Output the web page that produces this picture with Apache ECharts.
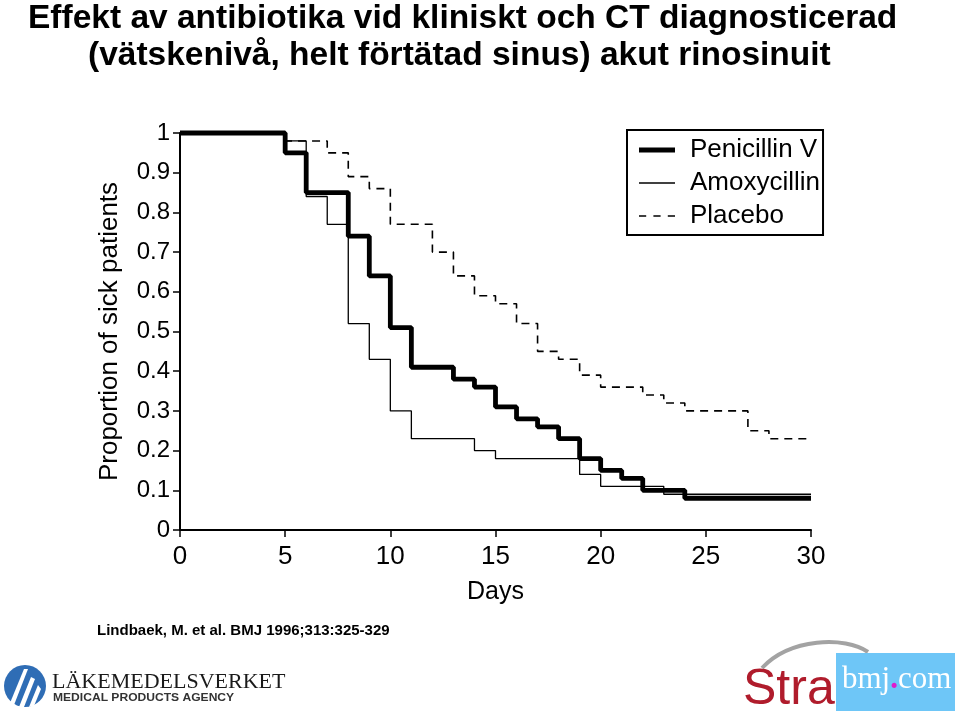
<!DOCTYPE html>
<html>
<head>
<meta charset="utf-8">
<script src="https://cdn.jsdelivr.net/npm/echarts@6/dist/echarts.min.js"></script>
<style>
html,body{margin:0;padding:0;background:#fff;}
#c{width:959px;height:714px;}
</style>
</head>
<body>
<div id="c"></div>
<script>
// ---- data (Kaplan-Meier steps: value holds from the given day) ----
const seriesNames = ['Penicillin V', 'Amoxycillin', 'Placebo'];
const penicillinDays   = [0, 5, 6, 8, 9, 10, 11, 13, 14, 15, 16, 17, 18, 19, 20, 21, 22, 24, 30];
const penicillinValues = [1, 0.95, 0.85, 0.74, 0.64, 0.51, 0.41, 0.38, 0.36, 0.31, 0.28, 0.26, 0.23, 0.18, 0.15, 0.13, 0.10, 0.08, 0.08];
const amoxycillinDays   = [0, 5, 6, 7, 8, 9, 10, 11, 14, 15, 19, 20, 23, 30];
const amoxycillinValues = [1, 0.98, 0.84, 0.77, 0.52, 0.43, 0.30, 0.23, 0.20, 0.18, 0.14, 0.11, 0.09, 0.09];
const placeboDays   = [0, 5, 7, 8, 9, 10, 12, 13, 14, 15, 16, 17, 18, 19, 20, 22, 23, 24, 27, 28, 30];
const placeboValues = [1, 0.98, 0.95, 0.89, 0.86, 0.77, 0.70, 0.64, 0.59, 0.57, 0.52, 0.45, 0.43, 0.39, 0.36, 0.34, 0.32, 0.30, 0.25, 0.23, 0.23];
const xTicks = [0, 5, 10, 15, 20, 25, 30];
const yTicks = [0, 0.1, 0.2, 0.3, 0.4, 0.5, 0.6, 0.7, 0.8, 0.9, 1];
const titleLines = ['Effekt av antibiotika vid kliniskt och CT diagnosticerad', '(vätskenivå, helt förtätad sinus) akut rinosinuit'];
const sourceText = 'Lindbaek, M. et al. BMJ 1996;313:325-329';

function pairs(xs, ys) { return xs.map((x, i) => [x, ys[i]]); }

const FONT = '"Liberation Sans", Arial, Helvetica, sans-serif';
const chart = echarts.init(document.getElementById('c'), null, { renderer: 'canvas' });

function yLabel(v) {
  const r = Math.round(v * 10) / 10;
  const idx = yTicks.findIndex(t => Math.abs(t - r) < 1e-9);
  if (idx < 0) return '';
  const t = yTicks[idx];
  return (t === 0 || t === 1) ? String(t) : t.toFixed(1);
}

const legendIcons = {
  'Penicillin V': 'path://M0,0H36V5H0Z',
  'Amoxycillin': 'path://M0,0H36V1.3H0Z',
  'Placebo': 'path://M0,0H7V1.6H0Z M14,0H21V1.6H14Z M28,0H35V1.6H28Z'
};

const option = {
  backgroundColor: '#ffffff',
  animation: false,
  title: [
    { text: titleLines[0], left: 23, top: -3,
      textStyle: { fontFamily: FONT, fontWeight: 'bold', fontSize: 33.5, color: '#000' } },
    { text: titleLines[1], left: 83, top: 34,
      textStyle: { fontFamily: FONT, fontWeight: 'bold', fontSize: 33.5, color: '#000' } }
  ],
  legend: {
    orient: 'vertical',
    left: 627, top: 130,
    padding: [7, 3, 6, 12],
    borderColor: '#000', borderWidth: 2,
    itemWidth: 36, itemHeight: 14, itemGap: 7,
    itemStyle: { borderWidth: 0, color: '#000' },
    data: seriesNames.map(n => ({ name: n, icon: legendIcons[n] })),
    textStyle: { fontFamily: FONT, fontSize: 26, color: '#000', padding: [0, 0, 0, 10] }
  },
  grid: { left: 180, right: 148, top: 133, bottom: 184 },
  xAxis: {
    type: 'value', min: 0, max: 30, interval: 5,
    name: 'Days', nameLocation: 'middle', nameGap: 50,
    nameTextStyle: { fontFamily: FONT, fontSize: 25, color: '#000' },
    axisLine: { lineStyle: { color: '#000', width: 2 } },
    axisTick: { show: true, length: 7, lineStyle: { color: '#000', width: 1.5 } },
    axisLabel: { fontFamily: FONT, fontSize: 26, color: '#000', margin: 14,
      formatter: v => xTicks.includes(v) ? String(v) : '' },
    splitLine: { show: false }
  },
  yAxis: {
    type: 'value', min: 0, max: 1, interval: 0.1,
    name: 'Proportion of sick patients', nameLocation: 'middle', nameGap: 57,
    nameRotate: 90,
    nameTextStyle: { fontFamily: FONT, fontSize: 26, color: '#000' },
    axisLine: { show: true, lineStyle: { color: '#000', width: 2 } },
    axisTick: { show: true, length: 7, lineStyle: { color: '#000', width: 1.5 } },
    axisLabel: { fontFamily: FONT, fontSize: 24, color: '#000', margin: 10, formatter: yLabel },
    splitLine: { show: false }
  },
  series: [
    { name: 'Placebo', type: 'line', step: 'end', showSymbol: false, symbol: 'none', clip: false, z: 2,
      data: pairs(placeboDays, placeboValues),
      lineStyle: { color: '#000', width: 1.6, type: [8, 6] }, itemStyle: { color: '#000' } },
    { name: 'Amoxycillin', type: 'line', step: 'end', showSymbol: false, symbol: 'none', clip: false, z: 3,
      data: pairs(amoxycillinDays, amoxycillinValues),
      lineStyle: { color: '#000', width: 1.3 }, itemStyle: { color: '#000' } },
    { name: 'Penicillin V', type: 'line', step: 'end', showSymbol: false, symbol: 'none', clip: false, z: 4,
      data: pairs(penicillinDays, penicillinValues),
      lineStyle: { color: '#000', width: 4.8 }, itemStyle: { color: '#000' } }
  ],
  graphic: [
    { type: 'text', x: 97, y: 631,
      style: { text: sourceText, font: 'bold 15px "Liberation Sans", Arial, sans-serif', fill: '#000',
               verticalAlign: 'middle' } },
    // Läkemedelsverket logo
    { type: 'group', x: 4, y: 665, children: [
      { type: 'circle', shape: { cx: 21, cy: 21, r: 21 }, style: { fill: '#2f6db5' } },
      { type: 'polygon', shape: { points: [[6, 38], [20, 4], [24, 4], [10, 40]] }, style: { fill: '#fff' } },
      { type: 'polygon', shape: { points: [[15, 42], [27, 12], [31, 14], [20, 42]] }, style: { fill: '#fff' } },
      { type: 'polygon', shape: { points: [[25, 42], [34, 20], [37, 24], [30, 41]] }, style: { fill: '#fff' } }
    ]},
    { type: 'text', x: 52, y: 682,
      style: { text: 'LÄKEMEDELSVERKET', font: '22px "Liberation Serif", "Times New Roman", serif', fill: '#1a1a1a',
               verticalAlign: 'middle' } },
    { type: 'text', x: 53, y: 698, scaleX: 1.15,
      style: { text: 'MEDICAL PRODUCTS AGENCY', font: 'bold 10.5px "Liberation Sans", Arial, sans-serif', fill: '#333',
               verticalAlign: 'middle' } },
    // Stra bmj.com logo
    { type: 'bezierCurve', shape: { x1: 762, y1: 668, x2: 868, y2: 652, cpx1: 790, cpy1: 638, cpx2: 845, cpy2: 636 },
      style: { stroke: '#a3a3a3', lineWidth: 4, fill: null } },
    { type: 'rect', shape: { x: 836, y: 653, width: 119, height: 58 }, style: { fill: '#6ec6f7' } },
    { type: 'text', x: 743, y: 690,
      style: { text: 'Stra', font: '50px "Liberation Sans", Arial, sans-serif', fill: '#b01c2c', verticalAlign: 'middle' } },
    { type: 'text', x: 842, y: 680,
      style: { text: '{w|bmj}{p|.}{w|com}', font: '31px "Liberation Serif", serif', verticalAlign: 'middle',
        rich: { w: { fill: '#fff', font: '31px "Liberation Serif", serif' },
                p: { fill: '#e01ccc', font: 'bold 31px "Liberation Serif", serif' } } } }
  ]
};
chart.setOption(option);
</script>
</body>
</html>
